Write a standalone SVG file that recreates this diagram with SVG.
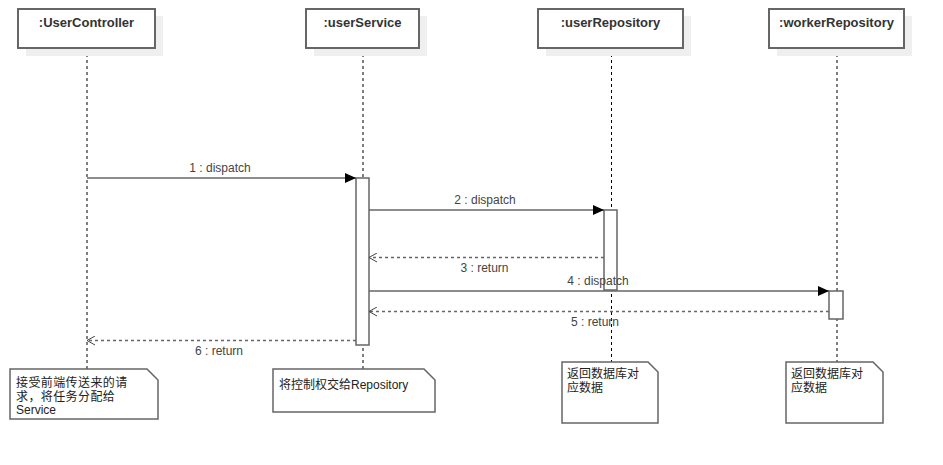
<svg xmlns="http://www.w3.org/2000/svg" width="943" height="465" viewBox="0 0 943 465">
<style>
.shadow{fill:#efefef;stroke:none}
.box{fill:#fff;stroke:#666;stroke-width:2}
.title{font-family:"Liberation Sans",Arial,sans-serif;font-size:13px;font-weight:bold;fill:#333;text-anchor:middle}
.life{stroke:#000;stroke-width:1;stroke-dasharray:3,3;fill:none}
.act{fill:#fff;stroke:#666;stroke-width:1.5}
.msg{stroke:#666;stroke-width:1.5;fill:none}
.ret{stroke:#666;stroke-width:1.5;stroke-dasharray:3,3;fill:none}
.lbl{font-family:"Liberation Sans",Arial,sans-serif;font-size:12px;fill:#444;text-anchor:middle}
.note{fill:#fff;stroke:#666;stroke-width:1.5}
.ntxt{font-family:"Liberation Sans","Noto Sans CJK SC",sans-serif;font-size:12px;fill:#222}
</style>
<defs>
<marker id="filled" markerWidth="12" markerHeight="10" refX="11" refY="5" orient="auto" markerUnits="userSpaceOnUse">
<path d="M0,0 L11,5 L0,10 Z" fill="#000"/>
</marker>
<marker id="open" markerWidth="10" markerHeight="10" refX="8" refY="5" orient="auto" markerUnits="userSpaceOnUse">
<path d="M0,0.5 L8,5 L0,9.5" fill="none" stroke="#444" stroke-width="1"/>
</marker>
</defs>
<rect width="943" height="465" fill="#fff"/>

<g id="lifelines">
<line class="life" x1="87" y1="48" x2="87" y2="369"/>
<line class="life" x1="363" y1="48" x2="363" y2="369"/>
<line class="life" x1="611.5" y1="48" x2="611.5" y2="362"/>
<line class="life" x1="837" y1="48" x2="837" y2="362"/>
</g>

<g id="UserController">
<rect class="shadow" x="26" y="16" width="137" height="40"/>
<rect class="box" x="18" y="9" width="137" height="39"/>
<text class="title" x="86.5" y="27">:UserController</text>
</g>
<g id="userService">
<rect class="shadow" x="314" y="16" width="113" height="40"/>
<rect class="box" x="306" y="9" width="113" height="39"/>
<text class="title" x="362.5" y="27">:userService</text>
</g>
<g id="userRepository">
<rect class="shadow" x="546" y="16" width="145" height="40"/>
<rect class="box" x="538" y="9" width="145" height="39"/>
<text class="title" x="610.5" y="27">:userRepository</text>
</g>
<g id="workerRepository">
<rect class="shadow" x="777" y="16" width="135" height="40"/>
<rect class="box" x="769" y="9" width="135" height="39"/>
<text class="title" x="836.5" y="27">:workerRepository</text>
</g>

<g id="activations">
<rect class="act" x="356" y="178" width="13" height="167"/>
<rect class="act" x="604" y="210" width="13" height="80"/>
<rect class="act" x="829" y="291" width="14" height="28"/>
</g>

<g id="connectors">
<line class="msg" x1="87" y1="178" x2="356" y2="178" marker-end="url(#filled)"/>
<text class="lbl" x="220" y="172">1 : dispatch</text>
<line class="msg" x1="369" y1="210" x2="604" y2="210" marker-end="url(#filled)"/>
<text class="lbl" x="485" y="204">2 : dispatch</text>
<line class="ret" x1="604" y1="257.5" x2="369" y2="257.5" marker-end="url(#open)"/>
<text class="lbl" x="484.5" y="272">3 : return</text>
<line class="msg" x1="369" y1="291" x2="829" y2="291" marker-end="url(#filled)"/>
<text class="lbl" x="598" y="285">4 : dispatch</text>
<line class="ret" x1="829" y1="311.5" x2="369" y2="311.5" marker-end="url(#open)"/>
<text class="lbl" x="595" y="326">5 : return</text>
<line class="ret" x1="356" y1="340.5" x2="87" y2="340.5" marker-end="url(#open)"/>
<text class="lbl" x="219" y="355">6 : return</text>
</g>

<g id="note1">
<path class="note" d="M10,369 H147 L158,380 V419 H10 Z"/>
<text class="ntxt" x="16" y="387" letter-spacing="0.4">接受前端传送来的请</text>
<text class="ntxt" x="16" y="401" letter-spacing="0.4">求，将任务分配给</text>
<text class="ntxt" x="16" y="414">Service</text>
</g>
<g id="note2">
<path class="note" d="M273,369 H424 L435,380 V412 H273 Z"/>
<text class="ntxt" x="279" y="389">将控制权交给Repository</text>
</g>
<g id="note3">
<path class="note" d="M562,362 H648 L658,372 V423 H562 Z"/>
<text class="ntxt" x="567" y="378">返回数据库对</text>
<text class="ntxt" x="567" y="392">应数据</text>
</g>
<g id="note4">
<path class="note" d="M786,362 H873 L883,372 V423 H786 Z"/>
<text class="ntxt" x="791" y="378">返回数据库对</text>
<text class="ntxt" x="791" y="392">应数据</text>
</g>
</svg>
